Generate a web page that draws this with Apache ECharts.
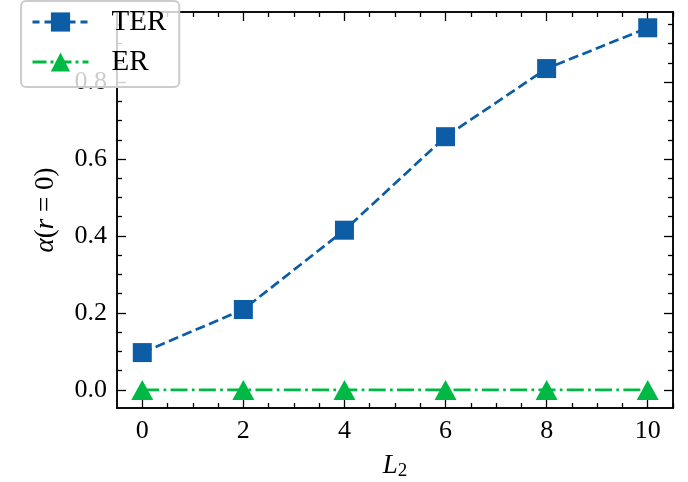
<!DOCTYPE html>
<html><head><meta charset="utf-8">
<script src="https://cdn.jsdelivr.net/npm/echarts@6/dist/echarts.min.js"></script>
<style>html,body{margin:0;padding:0;background:#fff}#c{width:688px;height:482px}</style>
</head><body><div id="c"></div>
<script>
const categories = [0, 2, 4, 6, 8, 10];
const terValues = [0.097, 0.209, 0.415, 0.658, 0.835, 0.941];
const erValues = [0, 0, 0, 0, 0, 0];
const xMajorTicks = [0, 2, 4, 6, 8, 10];
const xMinorTicks = [0.5, 1, 1.5, 2.5, 3, 3.5, 4.5, 5, 5.5, 6.5, 7, 7.5, 8.5, 9, 9.5, 10.5];
const yMajorTicks = [0, 0.2, 0.4, 0.6, 0.8];
const yTickLabels = ['0.0', '0.2', '0.4', '0.6', '0.8'];
const yMinorTicks = [0.05, 0.1, 0.15, 0.25, 0.3, 0.35, 0.45, 0.5, 0.55, 0.65, 0.7, 0.75, 0.85, 0.9, 0.95];

const FONT = 'Liberation Serif';
const X_MIN = -0.5, X_MAX = 10.5, Y_MIN = -0.047, Y_MAX = 0.982;

function xAxisDef(pos, ticks, len, labels) {
  return {
    type: 'value', position: pos, min: X_MIN, max: X_MAX,
    axisLine: { show: true, onZero: false, lineStyle: { color: '#000', width: 1.5 } },
    axisTick: { show: true, inside: true, length: len, customValues: ticks, lineStyle: { color: '#000', width: 1.3 } },
    axisLabel: labels ? { show: true, customValues: ticks, margin: 10, color: '#000', fontFamily: FONT, fontSize: 26,
      formatter: v => String(Math.round(v)) } : { show: false },
    splitLine: { show: false }
  };
}
function yAxisDef(pos, ticks, len, labels) {
  return {
    type: 'value', position: pos, min: Y_MIN, max: Y_MAX,
    axisLine: { show: true, onZero: false, lineStyle: { color: '#000', width: 1.5 } },
    axisTick: { show: true, inside: true, length: len, customValues: ticks, lineStyle: { color: '#000', width: 1.3 } },
    axisLabel: labels ? { show: true, customValues: ticks, margin: 10, color: '#000', fontFamily: FONT, fontSize: 26,
      formatter: v => { const i = yMajorTicks.findIndex(t => Math.abs(t - v) < 1e-6); return i >= 0 ? yTickLabels[i] : ''; } } : { show: false },
    splitLine: { show: false }
  };
}

const xA = [
  xAxisDef('bottom', xMajorTicks, 9, true),
  xAxisDef('bottom', xMinorTicks, 5, false),
  xAxisDef('top', xMajorTicks, 9, false),
  xAxisDef('top', xMinorTicks, 5, false)
];
xA[0].name = '{i|L}{s|2}';
xA[0].nameLocation = 'middle';
xA[0].nameGap = 42;
xA[0].nameTextStyle = { color: '#000', rich: {
  i: { fontFamily: FONT, fontStyle: 'italic', fontSize: 27, color: '#000' },
  s: { fontFamily: FONT, fontSize: 19, color: '#000', padding: [12, 0, 0, 0] } } };

const yA = [
  yAxisDef('left', yMajorTicks, 9, true),
  yAxisDef('left', yMinorTicks, 5, false),
  yAxisDef('right', yMajorTicks, 9, false),
  yAxisDef('right', yMinorTicks, 5, false)
];
yA[0].name = '{i|α}{n|(}{i|r}{n| = 0)}';
yA[0].nameLocation = 'middle';
yA[0].nameRotate = 90;
yA[0].nameGap = 58;
yA[0].nameTextStyle = { color: '#000', rich: {
  i: { fontFamily: FONT, fontStyle: 'italic', fontSize: 27, color: '#000' },
  n: { fontFamily: FONT, fontSize: 27, color: '#000' } } };

const chart = echarts.init(document.getElementById('c'), null, { renderer: 'canvas' });
chart.setOption({
  animation: false,
  backgroundColor: '#fff',
  grid: { left: 117, right: 15, top: 12, bottom: 74, containLabel: false, outerBoundsMode: 'none' },
  xAxis: xA,
  yAxis: yA,
  legend: {
    left: 21, top: 1, orient: 'vertical',
    data: [
      { name: 'TER', lineStyle: { width: 3, type: [7, 5] } },
      { name: 'ER', lineStyle: { width: 3, type: [14, 4, 3, 4] } }
    ],
    itemWidth: 56, itemHeight: 24, itemGap: 10,
    padding: [6, 13, 10, 10],
    backgroundColor: 'rgba(255,255,255,0.8)',
    borderColor: '#cccccc', borderWidth: 2, borderRadius: 5,
    lineStyle: { width: 3 },
    textStyle: { fontFamily: FONT, fontSize: 29, color: '#000', lineHeight: 30, padding: [0, 0, 0, 18] },
    z: 10
  },
  series: [
    {
      name: 'TER', type: 'line', xAxisIndex: 0, yAxisIndex: 0,
      data: categories.map((x, i) => [x, terValues[i]]),
      symbol: 'rect', symbolSize: 19,
      itemStyle: { color: '#0C5DA5' },
      lineStyle: { color: '#0C5DA5', width: 2.7, type: [10, 4.5] },
      z: 3
    },
    {
      name: 'ER', type: 'line', xAxisIndex: 0, yAxisIndex: 0,
      data: categories.map((x, i) => [x, erValues[i]]),
      symbol: 'triangle', symbolSize: [22, 20],
      itemStyle: { color: '#00B945' },
      lineStyle: { color: '#00B945', width: 2.7, type: [17, 4.3, 2.7, 4.3] },
      z: 3
    }
  ]
});
</script></body></html>
